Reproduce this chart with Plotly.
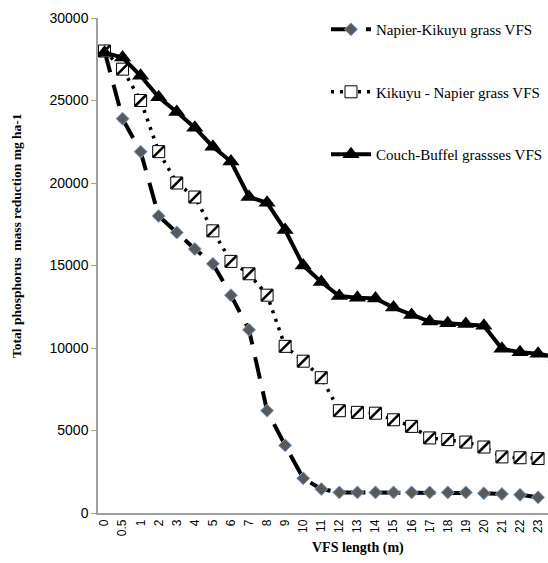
import plotly.graph_objects as go

categories = ["0", "0.5", "1", "2", "3", "4", "5", "6", "7", "8", "9", "10", "11", "12",
              "13", "14", "15", "16", "17", "18", "19", "20", "21", "22", "23", "24"]

napier_kikuyu = [28000, 23900, 21900, 18000, 17000, 16000, 15100, 13200, 11100, 6200, 4100,
                 2100, 1450, 1250, 1250, 1250, 1250, 1250, 1250, 1250, 1250, 1200, 1150, 1100,
                 950, 700]
kikuyu_napier = [28000, 26900, 25000, 21900, 20000, 19150, 17100, 15250, 14500, 13200, 10100,
                 9200, 8200, 6200, 6100, 6050, 5650, 5250, 4550, 4450, 4300, 4000, 3400, 3350,
                 3300, 3300]
couch_buffel = [27900, 27600, 26500, 25200, 24300, 23350, 22200, 21300, 19150, 18800, 17150,
                15000, 14000, 13150, 13050, 13000, 12450, 12000, 11600, 11500, 11450, 11350,
                9950, 9750, 9650, 9450]

series_names = ["Napier-Kikuyu grass VFS", "Kikuyu - Napier grass VFS", "Couch-Buffel grassses VFS"]

idx = list(range(len(categories)))
SERIF = "Liberation Serif"
SANS = "Liberation Sans"

fig = go.Figure()

fig.add_trace(go.Scatter(
    x=idx, y=napier_kikuyu, name=series_names[0], mode="lines+markers",
    legendgroup="a",
    line=dict(color="black", width=4, dash="22px,13px"),
    marker=dict(symbol="diamond", size=10, color="#5a5a5a",
                line=dict(color="#7fa3d6", width=1)),
))
fig.add_trace(go.Scatter(
    x=idx, y=kikuyu_napier, name=series_names[1], mode="lines+markers",
    legendgroup="b",
    line=dict(color="black", width=3.5, dash="3px,6px"),
    marker=dict(symbol="square", size=12, color="white",
                line=dict(color="black", width=1)),
))
fig.add_trace(go.Scatter(
    x=idx, y=kikuyu_napier, mode="markers", showlegend=False,
    legendgroup="b", hoverinfo="skip",
    marker=dict(symbol="line-ne", size=11, color="black",
                line=dict(color="black", width=2.5)),
))
fig.add_trace(go.Scatter(
    x=idx, y=couch_buffel, name=series_names[2], mode="lines+markers",
    legendgroup="c",
    line=dict(color="black", width=4),
    marker=dict(symbol="triangle-up", size=15, color="black"),
))

fig.update_layout(
    width=548, height=563,
    margin=dict(l=98, r=0, t=18, b=50),
    paper_bgcolor="white", plot_bgcolor="white",
    font=dict(family=SERIF, color="black"),
    showlegend=True,
    legend=dict(x=1.0, y=1.01, xanchor="right", yanchor="top",
                font=dict(family=SERIF, size=15, color="black"),
                bgcolor="rgba(0,0,0,0)", tracegroupgap=40,
                itemwidth=40),
    xaxis=dict(
        range=[-0.36, 24.55], tickmode="array", tickvals=idx, ticktext=categories,
        tickangle=-90, tickfont=dict(family=SANS, size=12, color="black"),
        showline=True, linecolor="#a0a0a0", linewidth=1.5, showgrid=False,
        zeroline=False, ticks="", automargin=False,
    ),
    yaxis=dict(
        range=[0, 30000], tickvals=[0, 5000, 10000, 15000, 20000, 25000, 30000],
        tickformat="d",
        tickfont=dict(family=SANS, size=14, color="black"),
        showline=True, linecolor="#a0a0a0", linewidth=1.5, showgrid=False,
        zeroline=False, ticks="outside", ticklen=5, tickcolor="#a0a0a0",
        automargin=False,
    ),
    annotations=[
        dict(text="<b>VFS length (m)</b>", xref="paper", yref="paper",
             x=(358 - 98) / 450, y=-(548 - 513) / 495, xanchor="center", yanchor="middle",
             showarrow=False, font=dict(family=SERIF, size=14, color="black")),
        dict(text="<b>Total phosphorus  mass reduction mg ha-1</b>", xref="paper", yref="paper",
             x=-(98 - 17) / 450, y=(513 - 236) / 495, xanchor="center", yanchor="middle",
             textangle=-90, showarrow=False,
             font=dict(family=SERIF, size=13.5, color="black")),
    ],
)

fig.write_html("out.html")
